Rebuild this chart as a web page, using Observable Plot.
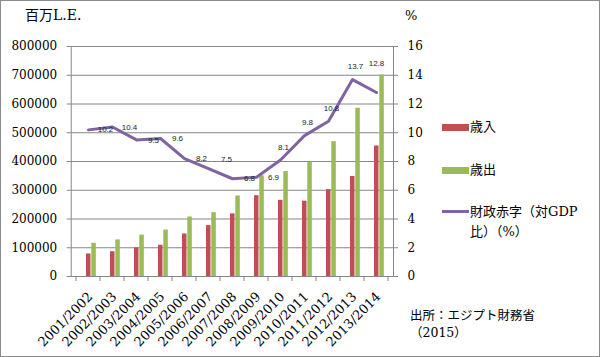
<!DOCTYPE html>
<html><head><meta charset="utf-8">
<script src="https://cdn.jsdelivr.net/npm/d3@7"></script>
<script src="https://cdn.jsdelivr.net/npm/@observablehq/plot@0.6"></script>
<style>
body{margin:0;background:#fff}
#wrap{position:relative;width:600px;height:357px;overflow:hidden;font-family:"DejaVu Serif","Noto Sans CJK JP",serif;color:#000}
#border{position:absolute;left:0;top:0;width:598px;height:355px;border:1px solid #8c8c8c;pointer-events:none}
.t{position:absolute;white-space:nowrap;line-height:1}
.sw{position:absolute}
svg{position:absolute;left:0;top:0}
</style></head><body>
<div id="wrap"></div>
<script>
const years = ["2001/2002","2002/2003","2003/2004","2004/2005","2005/2006","2006/2007","2007/2008","2008/2009","2009/2010","2010/2011","2011/2012","2012/2013","2013/2014"];
const revenue = [78300, 86200, 99600, 108600, 148000, 177000, 218000, 281000, 265000, 262000, 302000, 348000, 454000];
const expenditure = [115600, 127300, 144000, 161600, 207000, 222000, 280000, 350000, 365000, 398000, 469000, 585000, 701000];
const deficit = [10.2, 10.4, 9.5, 9.6, 8.2, 7.5, 6.8, 6.9, 8.1, 9.8, 10.8, 13.7, 12.8];
const leftTicks = [0, 100000, 200000, 300000, 400000, 500000, 600000, 700000, 800000];
const rightTicks = [0, 2, 4, 6, 8, 10, 12, 14, 16];
const seriesNames = ["歳入", "歳出", "財政赤字（対GDP比）（%）"];
const leftTitle = "百万L.E.";
const rightTitle = "%";
const sourceLines = ["出所：エジプト財務省", "（2015）"];

const W = 600, H = 357, mL = 70.7, mR = 207, mT = 46, mB = 81;
const k = leftTicks[leftTicks.length - 1] / rightTicks[rightTicks.length - 1];
const data = years.map((y, i) => ({year: y, rev: revenue[i], exp: expenditure[i], def: deficit[i], i}));
const bw = (W - mL - mR) / years.length;
const grid = "#868686";
const red = "#C0504D", green = "#9BBB59", purple = "#8064A2";

const labelFont = {fontSize: 8, fontFamily: "Liberation Sans, Arial, sans-serif", fill: "#222", text: d => d.def.toFixed(1)};
const ly = d => d.def * k;

const chart = Plot.plot({
  width: W, height: H, marginLeft: mL, marginRight: mR, marginTop: mT, marginBottom: mB,
  style: {fontFamily: '"DejaVu Serif", serif', fontSize: "12px", color: "#000", background: "transparent", overflow: "visible"},
  x: {type: "band", domain: years, padding: 0, label: null},
  y: {domain: [0, leftTicks[leftTicks.length - 1]], label: null},
  marks: [
    Plot.gridY(leftTicks, {stroke: grid, strokeOpacity: 1}),
    Plot.frame({stroke: grid}),
    Plot.barY(data, {x: "year", y: "rev", fill: red, insetLeft: 10, insetRight: bw - 15.3}),
    Plot.barY(data, {x: "year", y: "exp", fill: green, insetLeft: 15.3, insetRight: bw - 20.6}),
    Plot.line(data, {x: "year", y: ly, stroke: purple, strokeWidth: 3}),
    Plot.text(data.filter(d => d.i < 8 && d.i !== 5), {x: "year", y: ly, dx: 17, dy: 0, ...labelFont}),
    Plot.text(data.filter(d => d.i === 5), {x: "year", y: ly, dx: 18, dy: -9, ...labelFont}),
    Plot.text(data.filter(d => d.i >= 8 && d.i < 12), {x: "year", y: ly, dx: 3, dy: -13, ...labelFont}),
    Plot.text(data.filter(d => d.i === 12), {x: "year", y: ly, dx: 0, dy: -29, ...labelFont}),
    Plot.axisY(leftTicks, {anchor: "left", tickSize: 4, tickPadding: 10, tickFormat: d => String(d), stroke: grid, fill: "#000", label: null}),
    Plot.axisY(rightTicks.map(v => v * k), {anchor: "right", tickSize: 4, tickPadding: 10, tickFormat: v => String(Math.round(v / k)), stroke: grid, fill: "#000", label: null}),
    Plot.axisX({tickSize: 0, tickPadding: 18, tickRotate: -45, fontSize: 13, dx: 2, fill: "#000", label: null}),
    (index, scales) => {
      const g = d3.create("svg:g").attr("stroke", grid);
      const x = scales.x, y0 = scales.y(0);
      const b = x.bandwidth ? x.bandwidth() : bw;
      const xs = years.map(yv => x(yv)).concat([x(years[years.length - 1]) + b]);
      xs.forEach(xx => g.append("line").attr("x1", xx).attr("x2", xx).attr("y1", y0).attr("y2", y0 + 5));
      return g.node();
    }
  ]
});

const wrap = document.getElementById("wrap");
wrap.appendChild(chart);
function addText(txt, left, top, size, extra) {
  const d = document.createElement("div");
  d.className = "t"; d.textContent = txt;
  d.style.left = left + "px"; d.style.top = top + "px"; d.style.fontSize = size + "px";
  if (extra) Object.assign(d.style, extra);
  wrap.appendChild(d); return d;
}
function addSwatch(left, top, w, h, color) {
  const d = document.createElement("div");
  d.className = "sw";
  Object.assign(d.style, {left: left + "px", top: top + "px", width: w + "px", height: h + "px", background: color});
  wrap.appendChild(d);
}
addText(leftTitle, 25, 8, 14);
addText(rightTitle, 405, 9, 13);
addSwatch(442, 124, 27, 7, red);
addText(seriesNames[0], 470, 120, 13);
addSwatch(442, 167, 27, 7, green);
addText(seriesNames[1], 470, 163, 13);
addSwatch(442, 210, 27, 3, purple);
addText("財政赤字（対GDP\n比）（%）", 470, 202, 13, {lineHeight: "20px", whiteSpace: "pre"});
addText(sourceLines[0] + "\n" + sourceLines[1], 410, 307, 12.5, {lineHeight: "17px", whiteSpace: "pre"});
const bd = document.createElement("div"); bd.id = "border"; wrap.appendChild(bd);
</script>
</body></html>
